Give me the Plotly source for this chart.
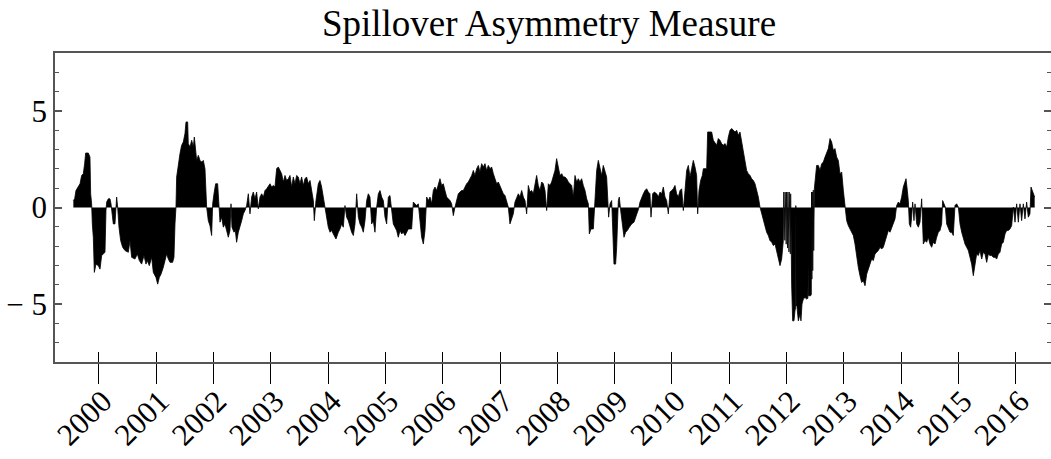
import plotly.graph_objects as go

title_text = "Spillover Asymmetry Measure"
year_ticks = list(range(2000, 2017))
year_labels = [str(y) for y in year_ticks]
y_ticks = [-5, 0, 5]
y_labels = ["\u2212 5", "0", "5"]

# ---- 1999.5 - 2003.7 ----
years_a = [
1999.558,1999.581,1999.604,1999.645,1999.674,1999.703,1999.732,1999.755,1999.773,1999.819,
1999.848,1999.860,1999.877,1999.889,1999.906,1999.924,1999.953,1999.994,2000.023,2000.052,
2000.081,2000.110,2000.127,2000.139,2000.168,2000.197,2000.215,2000.238,2000.255,2000.284,
2000.302,2000.313,2000.331,2000.354,2000.383,2000.418,2000.459,2000.517,2000.546,2000.575,
2000.633,2000.674,2000.709,2000.749,2000.790,2000.825,2000.848,2000.883,2000.924,2000.953,
2000.999,2001.029,2001.058,2001.087,2001.127,2001.156,2001.185,2001.215,2001.244,2001.290,
2001.313,2001.331,2001.348,2001.360,2001.389,2001.418,2001.447,2001.476,2001.505,2001.523,
2001.552,2001.563,2001.593,2001.622,2001.651,2001.668,2001.686,2001.709,2001.738,2001.767,
2001.796,2001.825,2001.854,2001.872,2001.883,2001.912,2001.941,2001.970,2001.988,2002.011,
2002.040,2002.075,2002.093,2002.116,2002.145,2002.174,2002.203,2002.232,2002.261,2002.290,
2002.308,2002.325,2002.360,2002.383,2002.406,2002.436,2002.465,2002.494,2002.523,2002.552,
2002.581,2002.610,2002.639,2002.668,2002.697,2002.726,2002.755,2002.784,2002.814,2002.843,
2002.872,2002.901,2002.930,2002.959,2002.988,2003.017,2003.046,2003.075,2003.104,2003.133,
2003.162,2003.191,2003.221,2003.250,2003.279,2003.308,2003.337,2003.366,2003.395,2003.424,
2003.453,2003.482,2003.511,2003.540,2003.569,2003.598,2003.627,2003.657,2003.686,
]
sam_a = [
0.36,0.45,0.88,1.06,1.23,1.66,1.75,2.27,2.82,2.82,
2.61,0.71,0.19,-0.85,-1.54,-3.36,-2.93,-3.01,-3.19,-2.49,
-2.41,-2.32,-0.16,0.28,0.45,0.45,0.19,-0.33,-0.85,-0.85,
0.28,0.54,0.02,-1.02,-1.71,-2.06,-2.23,-2.32,-1.71,-2.58,
-2.67,-2.41,-2.75,-2.93,-2.49,-2.93,-2.75,-3.01,-2.58,-3.36,
-3.62,-3.97,-3.62,-3.45,-3.10,-2.75,-2.41,-2.67,-2.84,-2.84,
-2.58,-0.85,0.02,1.58,2.27,2.79,3.22,3.39,3.83,4.43,
4.43,3.31,3.13,3.48,3.13,3.65,3.13,2.44,2.70,2.44,
2.35,2.44,2.01,0.88,0.02,-0.68,-0.94,-1.45,0.19,0.71,
1.23,1.23,0.19,-0.76,-0.50,-1.02,-0.85,-1.28,-1.54,-1.19,
0.19,-1.02,-1.28,-1.19,-1.80,-1.28,-1.02,-0.68,-0.33,-0.16,
0.10,0.71,-0.33,0.54,0.80,0.45,0.80,-0.07,0.54,0.71,
0.54,0.88,0.97,1.14,1.23,1.06,1.14,1.06,2.01,2.10,
1.92,1.75,1.32,1.66,1.40,1.49,1.66,1.06,1.58,1.23,
1.66,1.58,1.23,1.58,1.14,1.49,1.58,1.23,1.40,
]

# ---- 2003.7 - 2007.9 ----
years_b = [
2003.715,2003.744,2003.761,2003.790,2003.831,2003.860,2003.889,2003.918,2003.947,2003.976,
2004.005,2004.035,2004.064,2004.093,2004.139,2004.180,2004.209,2004.238,2004.267,2004.296,
2004.325,2004.354,2004.383,2004.412,2004.442,2004.471,2004.500,2004.529,2004.558,2004.587,
2004.616,2004.645,2004.674,2004.703,2004.732,2004.761,2004.790,2004.819,2004.849,2004.878,
2004.907,2004.936,2004.965,2004.994,2005.023,2005.052,2005.081,2005.110,2005.139,2005.168,
2005.197,2005.226,2005.256,2005.285,2005.314,2005.343,2005.372,2005.401,2005.430,2005.459,
2005.488,2005.517,2005.546,2005.575,2005.604,2005.633,2005.663,2005.692,2005.721,2005.750,
2005.779,2005.808,2005.837,2005.866,2005.895,2005.924,2005.953,2005.982,2006.011,2006.040,
2006.070,2006.099,2006.128,2006.157,2006.186,2006.215,2006.244,2006.273,2006.302,2006.331,
2006.360,2006.389,2006.418,2006.447,2006.477,2006.506,2006.535,2006.564,2006.593,2006.622,
2006.651,2006.680,2006.709,2006.738,2006.767,2006.796,2006.825,2006.854,2006.884,2006.913,
2006.942,2006.971,2007.000,2007.029,2007.058,2007.087,2007.116,2007.145,2007.174,2007.203,
2007.232,2007.261,2007.291,2007.320,2007.349,2007.378,2007.407,2007.436,2007.465,2007.494,
2007.523,2007.552,2007.581,2007.610,2007.639,2007.668,2007.698,2007.727,2007.756,2007.785,
2007.814,2007.843,2007.872,
]
sam_b = [
0.88,0.36,-0.68,0.36,1.23,1.40,1.06,0.54,0.02,-0.50,
-1.02,-1.28,-1.19,-1.37,-1.63,-1.28,-1.11,-0.85,-1.02,0.10,
-0.50,-0.68,-1.02,-1.28,-1.45,-0.85,0.71,-0.50,-0.85,-1.02,
-1.28,-0.68,0.36,0.71,0.54,-0.85,-0.68,-1.28,0.02,0.71,
0.88,0.54,0.36,-0.50,-0.85,0.54,0.62,-0.16,-0.85,-1.02,
-1.19,-1.54,-1.19,-1.37,-1.28,-1.45,-1.28,-1.11,-1.11,-1.11,
0.28,0.19,0.10,0.19,-0.85,-1.54,-1.89,-1.19,0.54,0.36,
0.54,0.19,0.88,1.06,0.88,1.14,1.49,1.14,1.23,0.88,
0.54,0.45,0.36,0.19,-0.42,0.02,0.45,0.71,0.80,0.88,
0.88,1.06,1.23,1.32,1.49,1.66,1.92,1.66,2.01,2.18,
1.84,2.27,2.10,2.27,1.92,2.18,2.01,2.10,1.75,1.49,
1.23,1.32,1.14,0.88,0.71,0.62,0.36,0.02,-0.85,-0.59,
-0.33,0.28,0.54,0.71,0.54,0.88,0.54,0.36,-0.33,1.14,
0.80,0.88,0.71,1.32,1.66,1.14,0.88,1.32,1.23,0.88,
-0.16,1.23,1.14,
]

# ---- 2007.9 - 2011.7 ----
years_c = [
2007.901,2007.930,2007.959,2007.988,2008.017,2008.046,2008.076,2008.105,2008.134,2008.163,
2008.192,2008.221,2008.250,2008.279,2008.308,2008.337,2008.366,2008.395,2008.424,2008.453,
2008.483,2008.512,2008.541,2008.558,2008.587,2008.628,2008.657,2008.686,2008.715,2008.744,
2008.773,2008.802,2008.831,2008.860,2008.878,2008.895,2008.919,2008.948,2008.965,2008.988,
2009.017,2009.035,2009.064,2009.081,2009.105,2009.140,2009.163,2009.192,2009.221,2009.256,
2009.296,2009.337,2009.372,2009.395,2009.418,2009.442,2009.471,2009.500,2009.529,2009.558,
2009.587,2009.616,2009.634,2009.663,2009.692,2009.733,2009.762,2009.791,2009.820,2009.849,
2009.878,2009.907,2009.936,2009.965,2009.994,2010.023,2010.052,2010.081,2010.110,2010.140,
2010.169,2010.198,2010.227,2010.256,2010.285,2010.314,2010.343,2010.372,2010.401,2010.430,
2010.448,2010.471,2010.500,2010.529,2010.547,2010.576,2010.605,2010.622,2010.663,2010.692,
2010.721,2010.750,2010.779,2010.808,2010.837,2010.866,2010.895,2010.924,2010.954,2010.983,
2011.012,2011.041,2011.070,2011.099,2011.128,2011.157,2011.186,2011.215,2011.244,2011.273,
2011.302,2011.331,2011.361,2011.390,2011.419,2011.448,2011.477,2011.506,2011.535,2011.564,
2011.593,2011.622,2011.651,2011.680,2011.709,
]
sam_c = [
1.32,1.66,1.92,2.53,2.10,1.66,1.75,1.58,1.58,1.49,
1.32,1.23,1.14,0.54,1.66,1.32,1.49,1.32,1.49,1.14,
0.88,0.45,0.19,-1.37,-1.11,-1.11,0.71,1.92,2.44,2.01,
1.66,2.18,1.92,1.58,0.54,-0.50,0.19,0.36,-1.02,-2.93,
-2.93,-2.06,0.36,0.54,-0.16,-1.02,-1.54,-1.28,-1.19,-1.02,
-0.85,-0.76,-0.50,-0.33,-0.07,0.28,0.54,0.71,0.88,0.97,
0.80,0.71,-0.50,0.71,0.80,0.71,0.54,0.80,0.71,1.06,
0.54,0.36,-0.33,0.80,0.88,0.97,1.14,0.71,0.54,0.88,
0.97,-0.16,0.88,1.92,2.18,1.58,2.01,2.44,2.10,1.66,
-0.33,0.88,1.40,1.66,2.01,2.01,2.01,3.91,3.91,3.91,
3.48,3.31,3.22,3.57,3.48,3.31,3.22,3.31,3.13,3.65,
4.00,4.09,4.00,3.91,4.00,3.74,3.91,3.39,2.87,2.44,
1.92,1.75,1.66,1.49,1.40,1.23,0.88,0.54,0.02,-0.33,
-0.68,-1.02,-1.28,-1.45,-1.71,
]

# ---- 2011.7 - 2012.5 (turbulent block) ----
years_d = [
2011.739,2011.768,2011.797,2011.826,2011.855,2011.884,2011.913,2011.942,
2011.950,2011.956,2011.962,2011.968,2011.974,2011.980,2011.986,2011.992,2011.998,2012.004,
2012.010,2012.016,2012.022,2012.028,2012.034,2012.040,2012.046,2012.052,2012.058,2012.064,
2012.070,2012.076,2012.087,2012.105,2012.128,2012.145,2012.155,2012.160,2012.165,2012.175,
2012.204,2012.233,2012.250,2012.268,2012.291,2012.320,2012.349,2012.370,2012.376,2012.382,
2012.419,2012.430,2012.434,2012.440,2012.448,2012.455,2012.465,2012.472,2012.483,2012.500,
]
sam_d = [
-1.80,-1.97,-1.89,-2.23,-2.67,-3.01,-2.67,-1.71,
0.80,-1.60,0.80,-1.70,0.80,-1.80,0.80,-1.90,0.80,-2.00,
0.80,-2.10,0.80,-2.20,0.80,-2.30,0.80,-2.10,0.80,-2.40,
0.71,-3.50,-3.97,-5.87,-5.87,-5.35,-5.20,0.10,-5.10,-5.00,
-5.87,-5.52,-5.87,-5.00,-4.74,-4.66,-4.74,-4.70,-2.93,-4.57,
-4.57,-4.50,0.80,-3.71,0.80,-3.27,0.90,-2.23,0.97,1.50,
]

# ---- 2012.5 - 2016.3 ----
years_e = [
2012.523,2012.553,2012.582,2012.611,2012.640,
2012.669,2012.698,2012.727,2012.756,2012.785,2012.814,2012.843,2012.872,2012.901,2012.930,
2012.960,2012.989,2013.018,2013.047,2013.076,2013.105,2013.134,2013.163,2013.192,2013.221,
2013.250,2013.279,2013.308,2013.337,2013.367,2013.396,2013.425,2013.454,2013.483,2013.512,
2013.541,2013.570,2013.599,2013.628,2013.657,2013.686,2013.715,2013.744,2013.774,2013.803,
2013.832,2013.861,2013.890,2013.919,2013.948,2013.977,2014.006,2014.035,2014.064,2014.082,
2014.105,2014.122,2014.140,2014.163,2014.180,2014.198,2014.221,2014.239,2014.268,2014.297,
2014.326,2014.355,2014.384,2014.413,2014.442,2014.471,2014.500,2014.529,2014.558,2014.588,
2014.617,2014.646,2014.675,2014.704,2014.721,2014.744,2014.768,2014.791,2014.820,2014.849,
2014.878,2014.907,2014.936,2014.965,2014.995,2015.024,2015.053,2015.082,2015.111,2015.140,
2015.169,2015.198,2015.227,2015.256,2015.285,2015.314,2015.343,2015.372,2015.402,2015.431,
2015.460,2015.489,2015.518,2015.547,2015.576,2015.605,2015.634,2015.663,2015.692,2015.721,
2015.750,2015.779,2015.809,2015.838,2015.867,2015.896,2015.925,2015.954,2015.983,2016.012,
2016.041,2016.070,2016.099,2016.128,2016.157,2016.186,2016.215,2016.244,2016.262,2016.285,
2016.302,2016.326,
]
sam_e = [
2.18,2.18,1.92,2.27,2.35,
2.61,2.79,3.05,3.57,3.39,2.96,3.05,2.61,2.44,1.75,
1.84,0.88,0.02,-0.68,-0.94,-1.11,-1.28,-1.45,-1.89,-2.58,
-3.10,-3.53,-3.88,-3.79,-4.05,-3.45,-3.19,-3.01,-2.67,-2.75,
-2.41,-2.32,-2.23,-2.06,-2.15,-2.06,-1.80,-1.54,-1.19,-1.28,
-1.02,-0.85,-0.59,0.10,0.28,0.19,0.54,1.06,1.32,1.49,
0.88,0.36,-0.85,-1.02,-0.50,0.28,-0.68,0.19,-0.85,-1.02,
-0.76,0.45,-1.89,-1.71,-1.80,-1.54,-1.89,-2.06,-1.80,-1.89,
-1.54,-1.28,-1.19,-0.85,0.36,0.19,0.02,-0.85,-1.11,-1.28,
-1.28,-1.45,0.10,0.19,0.02,-0.85,-1.28,-1.63,-1.89,-2.06,
-2.23,-2.58,-2.93,-3.53,-2.93,-2.41,-2.49,-2.23,-2.67,-2.32,
-2.41,-2.84,-2.41,-2.49,-2.49,-2.58,-2.58,-2.67,-2.41,-2.32,
-1.89,-1.80,-1.37,-1.19,-1.19,-1.11,-0.94,0.02,-0.76,0.19,
-0.76,0.19,-0.68,0.19,-0.59,0.28,-0.50,-0.33,1.06,0.88,
0.80,0.54,
]

years = years_a + years_b + years_c + years_d + years_e
sam = sam_a + sam_b + sam_c + sam_d + sam_e

AXIS_COLOR = "#555555"
TICK_FONT = dict(family="Liberation Serif, DejaVu Serif, serif", size=31, color="black")

fig = go.Figure()
fig.add_trace(go.Scatter(
    x=years, y=sam, mode="lines", fill="tozeroy",
    line=dict(color="black", width=0.8), fillcolor="black",
    showlegend=False, hoverinfo="x+y",
))
# helper trace for the overlaid x-axis (inner part of the x ticks)
fig.add_trace(go.Scatter(x=[years[0]], y=[0], mode="none", xaxis="x2",
                         showlegend=False, hoverinfo="skip"))

xr = [1999.238, 2016.611]
fig.update_layout(
    width=1051, height=459,
    margin=dict(l=55, r=0, t=53, b=97),
    paper_bgcolor="white", plot_bgcolor="white",
    title=dict(text=title_text, x=549/1051, xref="container", xanchor="center",
               y=1 - 23.5/459, yref="container", yanchor="middle",
               font=dict(family="Liberation Serif, serif", size=37, color="black")),
    xaxis=dict(range=xr, tickvals=year_ticks, ticktext=year_labels, tickangle=-45,
               ticks="outside", ticklen=20, tickwidth=1, tickcolor="black",
               showline=True, linecolor=AXIS_COLOR, linewidth=1.5, mirror=True,
               showgrid=False, zeroline=False, tickfont=TICK_FONT,
               automargin=False, ticklabelstandoff=-13, ticklabelshift=4),
    xaxis2=dict(range=xr, overlaying="x", anchor="y", side="bottom",
                tickvals=year_ticks, ticks="inside", ticklen=10, tickwidth=1,
                tickcolor="black", showticklabels=False, showgrid=False,
                zeroline=False, showline=False, automargin=False),
    yaxis=dict(range=[-8, 8], tickvals=y_ticks, ticktext=y_labels,
               ticks="inside", ticklen=7, tickwidth=1.5, tickcolor=AXIS_COLOR,
               minor=dict(dtick=1, tick0=0, ticks="inside", ticklen=4, tickwidth=1, tickcolor=AXIS_COLOR),
               showline=True, linecolor=AXIS_COLOR, linewidth=1.5, mirror="ticks",
               showgrid=False, zeroline=False, tickfont=TICK_FONT, automargin=False),
)

fig.write_html("out.html", config={"displayModeBar": False},
               post_script="document.body.style.margin='0';document.body.style.overflow='hidden';")
